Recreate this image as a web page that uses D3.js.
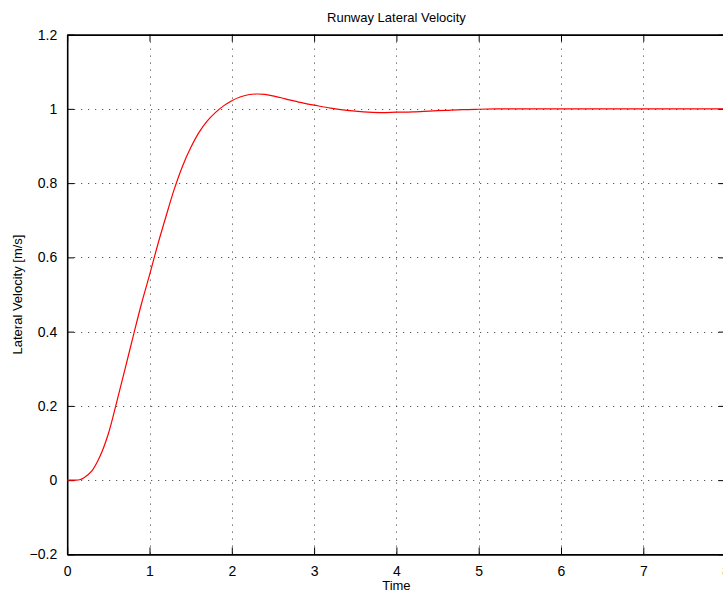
<!DOCTYPE html>
<html>
<head>
<meta charset="utf-8">
<script src="https://cdn.jsdelivr.net/npm/d3@7"></script>
<style>
  html, body { margin: 0; padding: 0; background: #fff; overflow: hidden; }
  svg { display: block; }
  text { font-family: "Liberation Sans", Arial, Helvetica, sans-serif; fill: #000; }
</style>
</head>
<body>
<svg id="chart" width="723" height="595"></svg>
<script>
// Step response of the runway lateral velocity
const timeSec = [0, 0.1, 0.15, 0.2, 0.3, 0.4, 0.5, 0.6, 0.7, 0.8, 0.9, 1.0, 1.1, 1.2, 1.3, 1.4, 1.5,
  1.6, 1.7, 1.8, 1.9, 2.0, 2.1, 2.2, 2.3, 2.4, 2.5, 2.6, 2.7, 2.8, 2.9, 3.0, 3.2, 3.4, 3.6, 3.8,
  4.0, 4.2, 4.4, 4.6, 4.8, 5.0, 5.3, 5.6, 6.0, 6.5, 7.0, 7.5, 8.0];
const lateralVelocity = [0, 0, 0.001, 0.006, 0.025, 0.065, 0.125, 0.209, 0.297, 0.386, 0.473,
  0.552, 0.634, 0.71, 0.783, 0.845, 0.895, 0.936, 0.967, 0.99, 1.008, 1.022, 1.032, 1.038, 1.04,
  1.039, 1.035, 1.03, 1.024, 1.019, 1.014, 1.01, 1.002, 0.996, 0.992, 0.99, 0.991, 0.992, 0.994,
  0.996, 0.998, 0.999, 1.0, 1.0, 1.0, 1.0, 1.0, 1.0, 1.0];
const xTicks = [0, 1, 2, 3, 4, 5, 6, 7, 8];
const yTicks = [-0.2, 0, 0.2, 0.4, 0.6, 0.8, 1, 1.2];

const svg = d3.select("#chart");
const plotLeft = 67.2, plotRight = 725.6, plotTop = 34.6, plotBottom = 554.4;

const x = d3.scaleLinear().domain([0, 8]).range([plotLeft, plotRight]);
const y = d3.scaleLinear().domain([-0.2, 1.2]).range([plotBottom, plotTop]);

// dotted grid
const grid = svg.append("g").attr("stroke", "#333").attr("stroke-width", 1)
  .attr("stroke-dasharray", "1,6");
grid.selectAll("line.v").data(xTicks.slice(1, -1)).join("line")
  .attr("x1", d => Math.round(x(d)) + 0.5).attr("x2", d => Math.round(x(d)) + 0.5)
  .attr("y1", plotTop).attr("y2", plotBottom);
grid.selectAll("line.h").data(yTicks.slice(1, -1)).join("line")
  .attr("y1", d => Math.round(y(d)) + 0.5).attr("y2", d => Math.round(y(d)) + 0.5)
  .attr("x1", plotLeft).attr("x2", plotRight);

// axes with inward ticks
const fmt = d => d < 0 ? "\u2212" + Math.abs(d) : String(d);
const tickLen = 7;

const xAxis = svg.append("g").attr("transform", `translate(0,${plotBottom})`)
  .call(d3.axisBottom(x).tickValues(xTicks).tickSizeInner(-tickLen).tickSizeOuter(0)
    .tickPadding(12).tickFormat(fmt));
const xAxisTop = svg.append("g").attr("transform", `translate(0,${plotTop})`)
  .call(d3.axisTop(x).tickValues(xTicks).tickSizeInner(-tickLen).tickSizeOuter(0).tickFormat(""));
const yAxis = svg.append("g").attr("transform", `translate(${plotLeft},0)`)
  .call(d3.axisLeft(y).tickValues(yTicks).tickSizeInner(-tickLen).tickSizeOuter(0)
    .tickPadding(10).tickFormat(fmt));
const yAxisRight = svg.append("g").attr("transform", `translate(${plotRight},0)`)
  .call(d3.axisRight(y).tickValues(yTicks).tickSizeInner(-tickLen).tickSizeOuter(0).tickFormat(""));

[xAxis, xAxisTop, yAxis, yAxisRight].forEach(g => {
  g.select(".domain").attr("stroke", "#000").attr("stroke-width", 1.6);
  g.selectAll(".tick line").attr("stroke", "#000").attr("stroke-width", 1);
  g.selectAll(".tick text").attr("font-size", 14).attr("fill", "#000")
    .attr("font-family", "'Liberation Sans', Arial, sans-serif");
});

// response curve
const pts = timeSec.map((t, i) => [t, lateralVelocity[i]]);
svg.append("path").datum(pts)
  .attr("fill", "none").attr("stroke", "#ff0000").attr("stroke-width", 1.2)
  .attr("d", d3.line().x(d => x(d[0])).y(d => y(d[1])).curve(d3.curveCatmullRom.alpha(0.5)));

// labels
svg.append("text").attr("x", (plotLeft + plotRight) / 2).attr("y", 22).attr("text-anchor", "middle")
  .attr("font-size", 13).text("Runway Lateral Velocity");
svg.append("text").attr("x", (plotLeft + plotRight) / 2).attr("y", 590).attr("text-anchor", "middle")
  .attr("font-size", 13).text("Time");
svg.append("text").attr("transform", `translate(22,${(plotTop + plotBottom) / 2}) rotate(-90)`)
  .attr("text-anchor", "middle").attr("font-size", 13).text("Lateral Velocity [m/s]");
</script>
</body>
</html>
